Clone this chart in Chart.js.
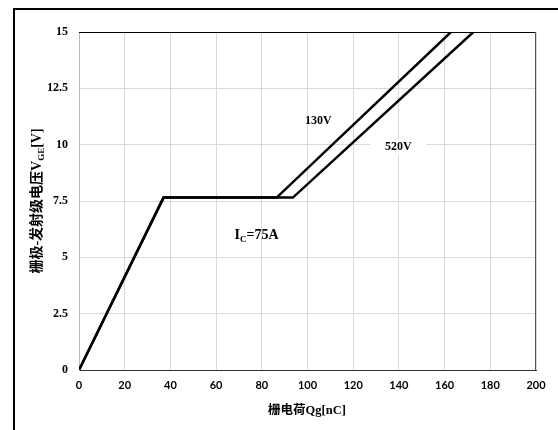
<!DOCTYPE html>
<html>
<head>
<meta charset="utf-8">
<script src="https://cdn.jsdelivr.net/npm/chart.js@4/dist/chart.umd.min.js"></script>
<style>
  html, body { margin: 0; padding: 0; background: #fff; }
  #wrap { position: relative; width: 558px; height: 430px; }
</style>
</head>
<body>
<div id="wrap"><canvas id="c" width="558" height="430"></canvas></div>
<script>
// ゲート電荷特性 (Qg - VGE)
const qg130 = [0, 37, 86.5, 162.8];
const vge130 = [0, 7.65, 7.65, 15];
const qg520 = [0, 37, 93.6, 172.6];
const vge520 = [0, 7.65, 7.65, 15];

const xTicks = [0, 20, 40, 60, 80, 100, 120, 140, 160, 180, 200];
const yTicks = [0, 2.5, 5, 7.5, 10, 12.5, 15];

// 図中の注記 (データ座標)
const notes = [
  { text: '130V', x: 104.7, y: 11.06, box: false },
  { text: '520V', x: 139.7, y: 9.9, box: true }
];
const icNote = { x: 77.7, y: 6.04 };

const SERIF = '"Liberation Serif", "Noto Sans CJK SC", serif';
const CJK = '"Liberation Serif", "Noto Sans CJK SC", sans-serif';

const toXY = (xs, ys) => xs.map((x, i) => ({ x, y: ys[i] }));

// 外枠・プロット枠・注記・軸タイトルを描くプラグイン
const decoPlugin = {
  id: 'deco',
  beforeDraw(chart) {
    const ctx = chart.ctx;
    ctx.save();
    ctx.fillStyle = '#fff';
    ctx.fillRect(0, 0, chart.width, chart.height);
    ctx.fillStyle = '#000';
    ctx.fillRect(13, 8, chart.width - 13, 2);
    ctx.fillRect(13, 8, 2, chart.height - 8);
    ctx.restore();
  },
  afterDraw(chart) {
    const ctx = chart.ctx;
    const a = chart.chartArea;
    const xs = chart.scales.x, ys = chart.scales.y;
    ctx.save();
    // 上辺と右辺
    ctx.lineWidth = 1;
    ctx.strokeStyle = '#000';
    ctx.beginPath(); ctx.moveTo(a.left, a.top + 0.5); ctx.lineTo(a.right, a.top + 0.5); ctx.stroke();
    ctx.strokeStyle = '#555';
    ctx.beginPath(); ctx.moveTo(a.right - 0.5, a.top); ctx.lineTo(a.right - 0.5, a.bottom); ctx.stroke();

    // 電圧ラベル
    ctx.font = 'bold 12px ' + SERIF;
    ctx.textAlign = 'center';
    ctx.textBaseline = 'middle';
    for (const n of notes) {
      const px = xs.getPixelForValue(n.x), py = ys.getPixelForValue(n.y);
      if (n.box) {
        ctx.fillStyle = '#fff';
        ctx.fillRect(px - 28, py - 8, 56, 16);
      }
      ctx.fillStyle = '#000';
      ctx.fillText(n.text, px, py);
    }

    // I_C=75A
    {
      const px = xs.getPixelForValue(icNote.x), py = ys.getPixelForValue(icNote.y);
      ctx.textAlign = 'left';
      ctx.textBaseline = 'alphabetic';
      const big = 'bold 14px ' + SERIF, small = 'bold 9px ' + SERIF;
      ctx.font = big; const wI = ctx.measureText('I').width;
      const wR = ctx.measureText('=75A').width;
      ctx.font = small; const wC = ctx.measureText('C').width;
      let x0 = px - (wI + wC + wR) / 2;
      const base = py + 5;
      ctx.font = big; ctx.fillText('I', x0, base); x0 += wI;
      ctx.font = small; ctx.fillText('C', x0, base + 3); x0 += wC;
      ctx.font = big; ctx.fillText('=75A', x0, base);
    }

    // X軸タイトル
    ctx.font = 'bold 12.5px ' + CJK;
    ctx.textAlign = 'center';
    ctx.textBaseline = 'middle';
    ctx.fillText('栅电荷Qg[nC]', 307, 411);

    // Y軸タイトル (回転, V_GE 下付き)
    ctx.translate(36, 201);
    ctx.rotate(-Math.PI / 2);
    const t1 = '栅极-发射级电压V', t2 = 'GE', t3 = '[V]';
    const fBig = 'bold 14px ' + CJK, fSmall = 'bold 9px ' + SERIF;
    ctx.font = fBig; const w1 = ctx.measureText(t1).width, w3 = ctx.measureText(t3).width;
    ctx.font = fSmall; const w2 = ctx.measureText(t2).width;
    let x = -(w1 + w2 + w3) / 2;
    ctx.textAlign = 'left';
    ctx.textBaseline = 'alphabetic';
    ctx.font = fBig; ctx.fillText(t1, x, 5); x += w1;
    ctx.font = fSmall; ctx.fillText(t2, x, 8); x += w2;
    ctx.font = fBig; ctx.fillText(t3, x, 5);
    ctx.restore();
  }
};

const lineStyle = { borderColor: '#000', borderWidth: 2.5, pointRadius: 0, tension: 0, fill: false };

new Chart(document.getElementById('c').getContext('2d'), {
  type: 'line',
  data: {
    datasets: [
      Object.assign({ label: '130V', data: toXY(qg130, vge130) }, lineStyle),
      Object.assign({ label: '520V', data: toXY(qg520, vge520) }, lineStyle)
    ]
  },
  plugins: [decoPlugin],
  options: {
    responsive: false,
    animation: false,
    events: [],
    layout: { padding: { left: 0, top: 32, right: 22, bottom: 0 } },
    scales: {
      x: {
        type: 'linear', min: 0, max: 200,
        afterBuildTicks: (s) => { s.ticks = xTicks.map(v => ({ value: v })); },
        afterFit: (s) => { s.height = 60; },
        ticks: { color: '#000', padding: 9, maxRotation: 0, font: { family: 'Lato, "Open Sans", sans-serif', weight: 'bold', size: 11 } },
        grid: { color: '#d9d9d9', lineWidth: 1, drawTicks: false },
        border: { color: '#333', width: 1 }
      },
      y: {
        type: 'linear', min: 0, max: 15,
        afterBuildTicks: (s) => { s.ticks = yTicks.map(v => ({ value: v })); },
        afterFit: (s) => { s.width = 79; },
        ticks: { color: '#000', padding: 11, font: { family: SERIF, weight: 'bold', size: 12 } },
        grid: { color: '#d9d9d9', lineWidth: 1, drawTicks: false },
        border: { color: '#bbb', width: 1 }
      }
    },
    plugins: {
      legend: { display: false },
      tooltip: { enabled: false }
    }
  }
});
</script>
</body>
</html>
